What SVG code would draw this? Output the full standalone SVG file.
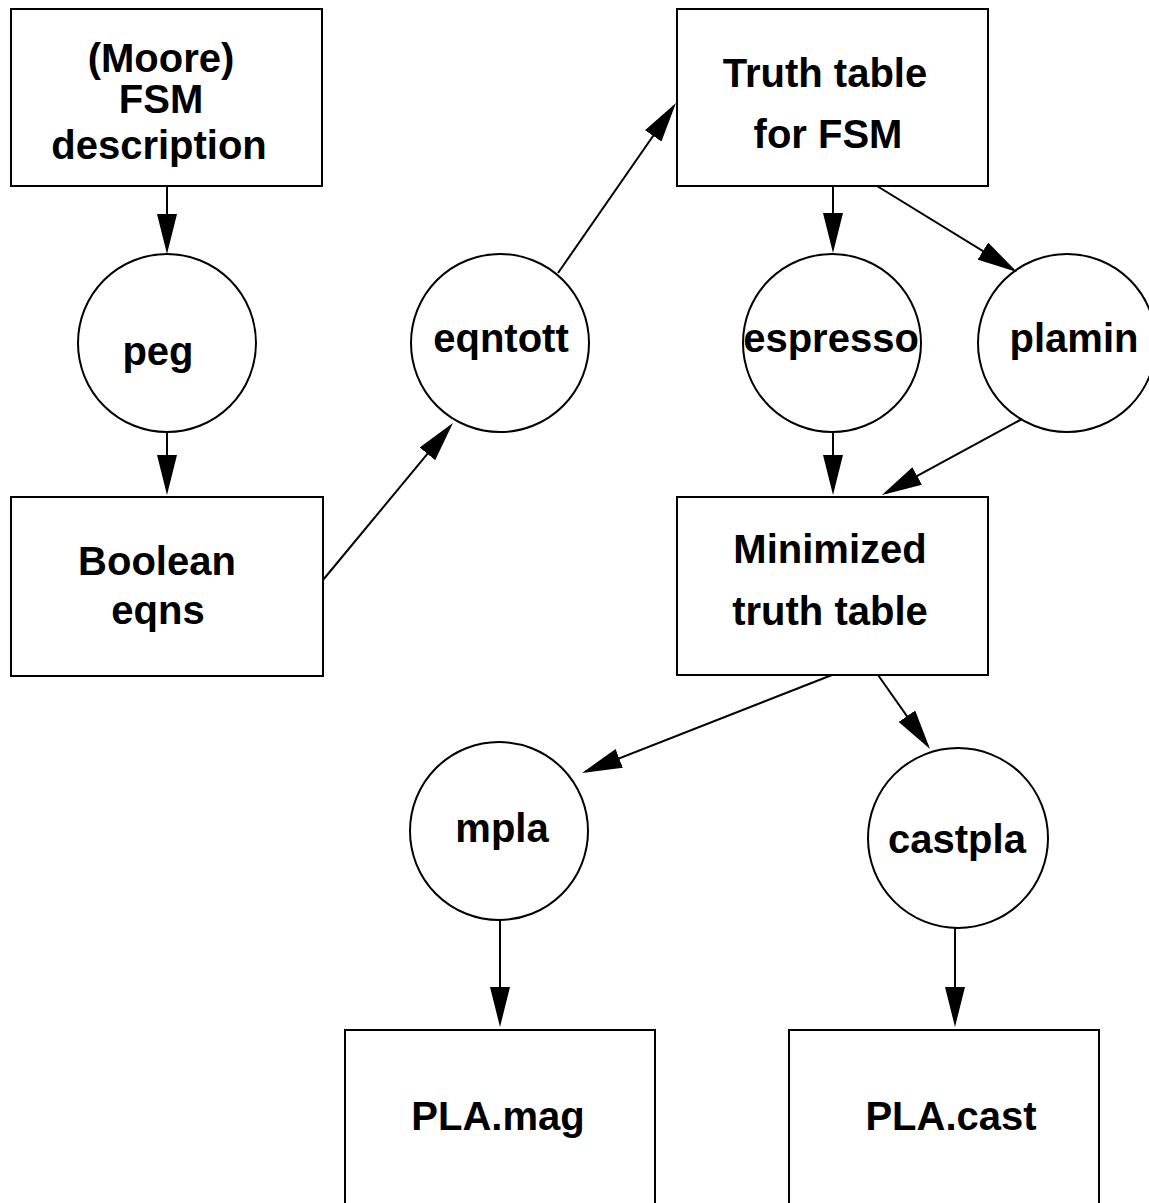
<svg xmlns="http://www.w3.org/2000/svg" width="1149" height="1203" viewBox="0 0 1149 1203">
  <style>
    .box { fill: #fff; stroke: #000; stroke-width: 2; }
    .proc { fill: #fff; stroke: #000; stroke-width: 2; }
    .lbl { font-family: "Liberation Sans", Arial, Helvetica, sans-serif; font-weight: bold; font-size: 40px; fill: #000; text-anchor: middle; }
    .edge { fill: none; stroke: #000; stroke-width: 2; marker-end: url(#head); }
  </style>
  <defs>
    <marker id="head" viewBox="0 0 40 20" markerUnits="userSpaceOnUse" markerWidth="40" markerHeight="20" refX="36" refY="10" orient="auto">
      <path d="M0,0 L40,10 L0,20 z" fill="#000"/>
    </marker>
  </defs>
  <rect width="1149" height="1203" fill="#fff"/>

  <!-- data files (rectangles) -->
  <g id="fsm-description">
    <rect class="box" x="11" y="9" width="311" height="177"/>
    <text class="lbl" x="161" y="72">(Moore)</text>
    <text class="lbl" x="161" y="113">FSM</text>
    <text class="lbl" x="159" y="159">description</text>
  </g>
  <g id="truth-table">
    <rect class="box" x="677" y="9" width="311" height="177"/>
    <text class="lbl" x="825" y="87">Truth table</text>
    <text class="lbl" x="828" y="148">for FSM</text>
  </g>
  <g id="boolean-eqns">
    <rect class="box" x="11" y="497" width="312" height="179"/>
    <text class="lbl" x="157" y="575">Boolean</text>
    <text class="lbl" x="158" y="624">eqns</text>
  </g>
  <g id="minimized-truth-table">
    <rect class="box" x="677" y="497" width="311" height="178"/>
    <text class="lbl" x="830" y="563">Minimized</text>
    <text class="lbl" x="830" y="625">truth table</text>
  </g>
  <g id="pla-mag">
    <rect class="box" x="345" y="1030" width="310" height="200"/>
    <text class="lbl" x="498" y="1130">PLA.mag</text>
  </g>
  <g id="pla-cast">
    <rect class="box" x="789" y="1030" width="310" height="200"/>
    <text class="lbl" x="951" y="1130">PLA.cast</text>
  </g>

  <!-- tools (circles) -->
  <g id="peg">
    <circle class="proc" cx="167" cy="343" r="89"/>
    <text class="lbl" x="158" y="365">peg</text>
  </g>
  <g id="eqntott">
    <circle class="proc" cx="500" cy="343" r="89"/>
    <text class="lbl" x="501" y="352">eqntott</text>
  </g>
  <g id="espresso">
    <circle class="proc" cx="832" cy="343" r="89"/>
    <text class="lbl" x="831" y="352">espresso</text>
  </g>
  <g id="plamin">
    <circle class="proc" cx="1067" cy="343" r="89"/>
    <text class="lbl" x="1074" y="352">plamin</text>
  </g>
  <g id="mpla">
    <circle class="proc" cx="499" cy="831" r="89"/>
    <text class="lbl" x="502" y="842">mpla</text>
  </g>
  <g id="castpla">
    <circle class="proc" cx="958" cy="838" r="90"/>
    <text class="lbl" x="957" y="853">castpla</text>
  </g>

  <!-- connectors -->
  <g id="connectors">
    <line class="edge" x1="167" y1="186" x2="167" y2="250"/>
    <line class="edge" x1="167" y1="432" x2="167" y2="491"/>
    <line class="edge" x1="323" y1="580" x2="450.4" y2="426.1"/>
    <line class="edge" x1="558" y1="273" x2="673.7" y2="106.3"/>
    <line class="edge" x1="833" y1="186" x2="833" y2="249"/>
    <line class="edge" x1="877" y1="186" x2="1013.6" y2="269.9"/>
    <line class="edge" x1="833" y1="432" x2="833" y2="491"/>
    <line class="edge" x1="1022" y1="419" x2="885.5" y2="493.1"/>
    <line class="edge" x1="832" y1="675" x2="585.7" y2="771.5"/>
    <line class="edge" x1="878" y1="675" x2="927.7" y2="745.7"/>
    <line class="edge" x1="500" y1="920" x2="500" y2="1023"/>
    <line class="edge" x1="955" y1="928" x2="955" y2="1023"/>
  </g>
</svg>
